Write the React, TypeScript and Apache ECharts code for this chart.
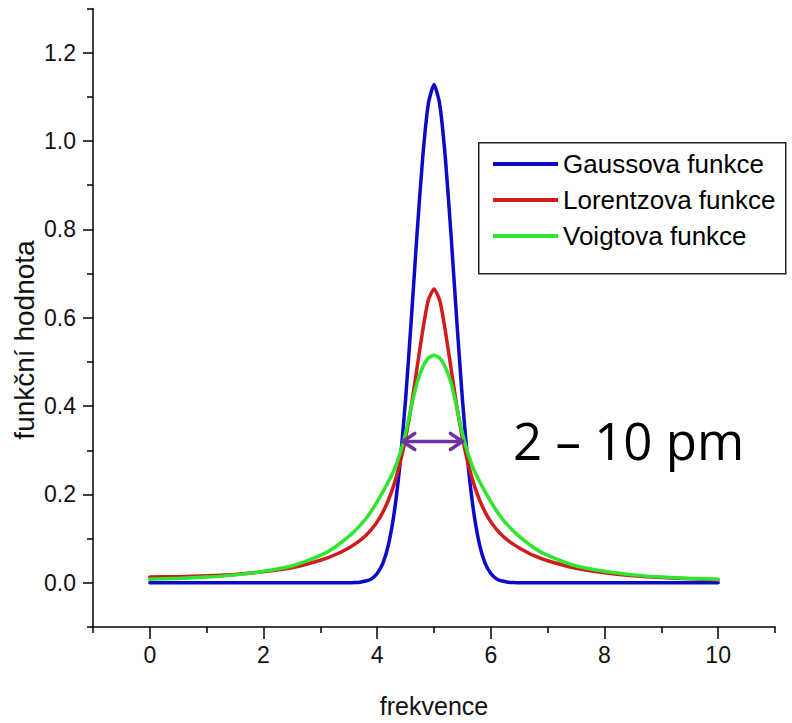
import React, { useEffect, useRef } from "react";
import * as echarts from "echarts";

// x positions (frekvence)
const xs = [
  0, 0.5, 1, 1.5, 2, 2.5, 3, 3.25,
  3.5, 3.6, 3.7, 3.8, 3.9, 4, 4.1, 4.2, 4.3, 4.4, 4.5, 4.6, 4.7, 4.8, 4.9,
  5,
  5.1, 5.2, 5.3, 5.4, 5.5, 5.6, 5.7, 5.8, 5.9, 6, 6.1, 6.2, 6.3, 6.4, 6.5,
  6.75, 7, 7.5, 8, 8.5, 9, 9.5, 10,
];

const gaussValues = [
  0, 0, 0, 0, 0, 0, 0, 0,
  0, 0.0005, 0.0015, 0.004, 0.009, 0.021, 0.044, 0.087, 0.159, 0.267, 0.415, 0.595, 0.787, 0.961, 1.084,
  1.128,
  1.084, 0.961, 0.787, 0.595, 0.415, 0.267, 0.159, 0.087, 0.044, 0.021, 0.009, 0.004, 0.0015, 0.0005, 0,
  0, 0, 0, 0, 0, 0, 0, 0,
];

const lorentzValues = [
  0.013, 0.014, 0.016, 0.019, 0.025, 0.034, 0.051, 0.063,
  0.079, 0.087, 0.096, 0.107, 0.121, 0.138, 0.16, 0.188, 0.224, 0.27, 0.328, 0.4, 0.485, 0.57, 0.64,
  0.665,
  0.64, 0.57, 0.485, 0.4, 0.328, 0.27, 0.224, 0.188, 0.16, 0.138, 0.121, 0.107, 0.096, 0.087, 0.079,
  0.062, 0.05, 0.033, 0.023, 0.016, 0.012, 0.009, 0.007,
];

const voigtValues = [
  0.008, 0.01, 0.013, 0.018, 0.026, 0.038, 0.062, 0.08,
  0.105, 0.117, 0.13, 0.145, 0.163, 0.184, 0.206, 0.23, 0.256, 0.292, 0.338, 0.398, 0.452, 0.488, 0.509,
  0.515,
  0.509, 0.488, 0.452, 0.398, 0.338, 0.292, 0.256, 0.23, 0.206, 0.184, 0.163, 0.145, 0.13, 0.117, 0.105,
  0.08, 0.062, 0.038, 0.026, 0.018, 0.013, 0.01, 0.008,
];

const seriesNames = ["Gaussova funkce", "Lorentzova funkce", "Voigtova funkce"];

const xMajorTicks = [0, 2, 4, 6, 8, 10];
const xMinorTicks = [-1, 1, 3, 5, 7, 9, 11];
const yMajorTicks = [0, 0.2, 0.4, 0.6, 0.8, 1.0, 1.2];
const yMinorTicks = [-0.1, 0.1, 0.3, 0.5, 0.7, 0.9, 1.1, 1.3];

// FWHM arrow: [xStart, y, xEnd]
const arrowData = [[4.45, 0.32, 5.5]];
const annotationText = "2 – 10 pm";

const FONT = "'Liberation Sans', Arial, sans-serif";

export default function App() {
  const ref = useRef<HTMLDivElement>(null);

  useEffect(() => {
    document.body.style.margin = "0";
    if (!ref.current) return;
    const chart = echarts.init(ref.current, null, { renderer: "svg" });

    const mk = (vals: number[]) => xs.map((x, i) => [x, vals[i]]);

    const baseX = {
      type: "value",
      min: -1,
      max: 11,
      interval: 1,
      position: "bottom",
      splitLine: { show: false },
    };
    const baseY = {
      type: "value",
      min: -0.1,
      max: 1.3,
      interval: 0.1,
      position: "left",
      splitLine: { show: false },
    };

    const option: any = {
      animation: false,
      backgroundColor: "#ffffff",
      grid: { left: 93, right: 17, top: 8.5, bottom: 91.5, containLabel: false },
      xAxis: [
        {
          ...baseX,
          name: "frekvence",
          nameLocation: "middle",
          nameGap: 66,
          nameTextStyle: { fontSize: 25, color: "#111", fontFamily: FONT },
          axisLine: { show: true, onZero: false, lineStyle: { color: "#000", width: 1.5 } },
          axisTick: { show: true, length: 12, customValues: xMajorTicks, lineStyle: { color: "#000", width: 1.5 } },
          axisLabel: {
            show: true,
            customValues: xMajorTicks,
            margin: 16,
            fontSize: 23,
            color: "#111",
            fontFamily: FONT,
          },
        },
        {
          ...baseX,
          axisLine: { show: false, onZero: false },
          axisTick: { show: true, length: 6, customValues: xMinorTicks, lineStyle: { color: "#000", width: 1.5 } },
          axisLabel: { show: false },
        },
      ],
      yAxis: [
        {
          ...baseY,
          axisLine: { show: true, onZero: false, lineStyle: { color: "#000", width: 1.5 } },
          axisTick: { show: true, length: 10, customValues: yMajorTicks, lineStyle: { color: "#000", width: 1.5 } },
          axisLabel: {
            show: true,
            customValues: yMajorTicks,
            margin: 17,
            fontSize: 23,
            color: "#111",
            fontFamily: FONT,
            formatter: (v: number) => v.toFixed(1),
          },
        },
        {
          ...baseY,
          axisLine: { show: false, onZero: false },
          axisTick: { show: true, length: 6, customValues: yMinorTicks, lineStyle: { color: "#000", width: 1.5 } },
          axisLabel: { show: false },
        },
      ],
      legend: {
        data: seriesNames,
        orient: "vertical",
        left: 493,
        top: 151,
        icon: "rect",
        itemWidth: 65,
        itemHeight: 4,
        itemGap: 10,
        textStyle: { fontSize: 26, color: "#000", fontFamily: FONT, padding: [0, 0, 0, 0] },
        padding: 0,
      },
      graphic: [
        {
          type: "rect",
          left: 478,
          top: 142,
          shape: { width: 307, height: 131 },
          style: { fill: "transparent", stroke: "#222", lineWidth: 1.5 },
          z: 1,
        },
        {
          type: "text",
          x: 513,
          y: 440,
          style: {
            text: annotationText,
            fontSize: 51,
            fontFamily: "'Open Sans', 'DejaVu Sans', sans-serif",
            fill: "#000",
            textAlign: "left",
            textVerticalAlign: "middle",
          },
        },
        {
          type: "text",
          x: 24,
          y: 340,
          rotation: Math.PI / 2,
          style: {
            text: "funkční hodnota",
            fontSize: 28,
            fontFamily: FONT,
            fill: "#111",
            textAlign: "center",
            textVerticalAlign: "middle",
          },
        },
      ],
      series: [
        {
          name: seriesNames[0],
          type: "line",
          data: mk(gaussValues),
          showSymbol: false,
          symbol: "none",
          smooth: 0.2,
          lineStyle: { color: "#0a0ac8", width: 3.5, cap: "round", join: "round" },
          itemStyle: { color: "#0a0ac8" },
          z: 2,
        },
        {
          name: seriesNames[1],
          type: "line",
          data: mk(lorentzValues),
          showSymbol: false,
          symbol: "none",
          smooth: 0.2,
          lineStyle: { color: "#d01c1c", width: 3.5, cap: "round", join: "round" },
          itemStyle: { color: "#d01c1c" },
          z: 3,
        },
        {
          name: seriesNames[2],
          type: "line",
          data: mk(voigtValues),
          showSymbol: false,
          symbol: "none",
          smooth: 0.2,
          lineStyle: { color: "#2ee62e", width: 3.5, cap: "round", join: "round" },
          itemStyle: { color: "#2ee62e" },
          z: 4,
        },
        {
          name: "fwhm",
          type: "custom",
          data: arrowData,
          z: 5,
          renderItem: (params: any, api: any) => {
            const p1 = api.coord([api.value(0), api.value(1)]);
            const p2 = api.coord([api.value(2), api.value(1)]);
            const hl = 12;
            const hw = 8;
            const style = { stroke: "#7030a0", lineWidth: 3.5, fill: "none", lineCap: "round", lineJoin: "round" };
            return {
              type: "group",
              children: [
                { type: "line", shape: { x1: p1[0], y1: p1[1], x2: p2[0], y2: p2[1] }, style },
                {
                  type: "polyline",
                  shape: { points: [[p1[0] + hl, p1[1] - hw], [p1[0], p1[1]], [p1[0] + hl, p1[1] + hw]] },
                  style,
                },
                {
                  type: "polyline",
                  shape: { points: [[p2[0] - hl, p2[1] - hw], [p2[0], p2[1]], [p2[0] - hl, p2[1] + hw]] },
                  style,
                },
              ],
            };
          },
        },
      ],
    };

    chart.setOption(option);
    return () => chart.dispose();
  }, []);

  return <div ref={ref} style={{ width: 792, height: 723 }} />;
}
